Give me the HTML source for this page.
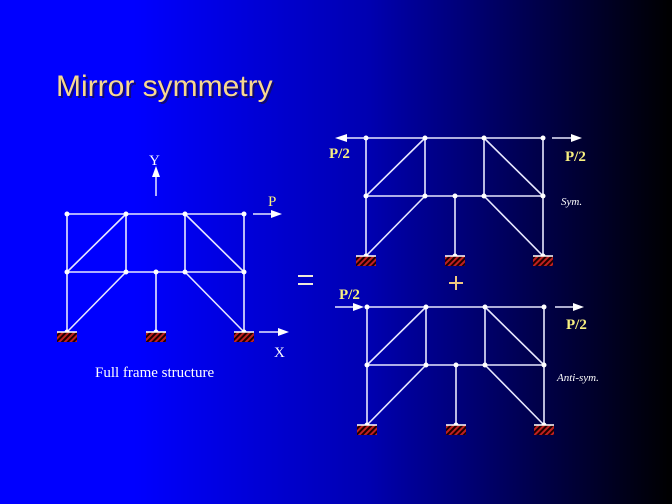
<!DOCTYPE html>
<html><head><meta charset="utf-8"><style>
html,body{margin:0;padding:0}
body{width:672px;height:504px;overflow:hidden;background:linear-gradient(to right,#0000ff 0%,#0000ff 20%,#0000b0 55%,#00004a 80%,#000000 100%)}
svg{display:block}
</style></head><body>
<svg width="672" height="504" viewBox="0 0 672 504" xmlns="http://www.w3.org/2000/svg">
<defs>
<pattern id="h" width="4" height="4" patternUnits="userSpaceOnUse" patternTransform="rotate(45)">
<rect width="4" height="4" fill="#200000"/><rect width="2" height="4" fill="#c02020"/>
</pattern>
<g id="fr">
<g stroke="#e8e8ff" stroke-width="1.6" fill="none">
<line x1="0" y1="0" x2="177" y2="0"/>
<line x1="0" y1="58" x2="177" y2="58"/>
<line x1="0" y1="0" x2="0" y2="118"/>
<line x1="177" y1="0" x2="177" y2="118"/>
<line x1="59" y1="0" x2="59" y2="58"/>
<line x1="118" y1="0" x2="118" y2="58"/>
<line x1="89" y1="58" x2="89" y2="118"/>
<line x1="59" y1="0" x2="0" y2="58"/>
<line x1="118" y1="0" x2="177" y2="58"/>
<line x1="59" y1="58" x2="0" y2="118"/>
<line x1="118" y1="58" x2="177" y2="118"/>
</g>
<g fill="#fff">
<circle cx="0" cy="0" r="2.5"/><circle cx="59" cy="0" r="2.5"/><circle cx="118" cy="0" r="2.5"/><circle cx="177" cy="0" r="2.5"/>
<circle cx="0" cy="58" r="2.5"/><circle cx="59" cy="58" r="2.5"/><circle cx="89" cy="58" r="2.5"/><circle cx="118" cy="58" r="2.5"/><circle cx="177" cy="58" r="2.5"/>
<circle cx="0" cy="118" r="2.5"/><circle cx="89" cy="118" r="2.5"/><circle cx="177" cy="118" r="2.5"/>
</g>
<g>
<rect x="-10" y="118" width="20" height="10" fill="url(#h)"/>
<rect x="79" y="118" width="20" height="10" fill="url(#h)"/>
<rect x="167" y="118" width="20" height="10" fill="url(#h)"/>
<g stroke="#fff" stroke-width="1.5"><line x1="-10" y1="118" x2="10" y2="118"/><line x1="79" y1="118" x2="99" y2="118"/><line x1="167" y1="118" x2="187" y2="118"/></g>
</g>
</g>
</defs>

<text x="58" y="98" font-family="Liberation Sans, sans-serif" font-size="30" fill="#1a1040" opacity="0.7">Mirror symmetry</text>
<text x="56" y="96" font-family="Liberation Sans, sans-serif" font-size="30" fill="#f8d890">Mirror symmetry</text>

<use href="#fr" x="67" y="214"/>
<use href="#fr" x="366" y="138"/>
<use href="#fr" x="367" y="307"/>

<g stroke="#e8e8ff" stroke-width="1.5" fill="#fff">
<line x1="156" y1="196" x2="156" y2="176"/><polygon points="152,177 160,177 156,166" stroke="none"/>
<line x1="253" y1="214" x2="272" y2="214"/><polygon points="271,210 271,218 282,214" stroke="none"/>
<line x1="259" y1="332" x2="279" y2="332"/><polygon points="278,328 278,336 289,332" stroke="none"/>
<line x1="366" y1="138" x2="346" y2="138"/><polygon points="347,134 347,142 335,138" stroke="none"/>
<line x1="552" y1="138" x2="572" y2="138"/><polygon points="571,134 571,142 582,138" stroke="none"/>
<line x1="335" y1="307" x2="354" y2="307"/><polygon points="353,303 353,311 364,307" stroke="none"/>
<line x1="555" y1="307" x2="574" y2="307"/><polygon points="573,303 573,311 584,307" stroke="none"/>
</g>

<g font-family="Liberation Serif, serif" fill="#fff">
<text x="149" y="165" font-size="15">Y</text>
<text x="274" y="357" font-size="15">X</text>
<text x="95" y="377" font-size="15">Full frame structure</text>
<text x="561" y="205" font-size="11" font-style="italic">Sym.</text>
<text x="557" y="381" font-size="11" font-style="italic">Anti-sym.</text>
</g>
<g font-family="Liberation Serif, serif" fill="#f8f080" font-size="15" font-weight="bold">
<text x="268" y="206" font-weight="normal">P</text>
<text x="329" y="158">P/2</text>
<text x="565" y="161">P/2</text>
<text x="339" y="299">P/2</text>
<text x="566" y="329">P/2</text>
</g>
<g stroke="#f0e8d8" stroke-width="2">
<line x1="298" y1="276" x2="313" y2="276"/><line x1="298" y1="284" x2="313" y2="284"/>
</g>
<g stroke="#f0c880" stroke-width="2">
<line x1="449" y1="283" x2="463" y2="283"/><line x1="456" y1="276" x2="456" y2="290"/>
</g>
</svg>
</body></html>
